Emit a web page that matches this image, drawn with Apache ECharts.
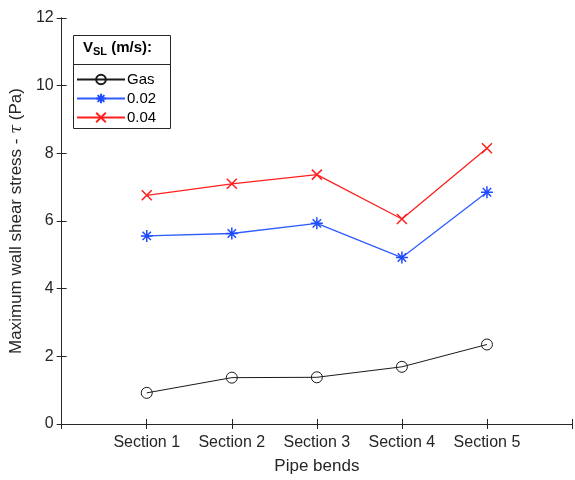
<!DOCTYPE html>
<html><head><meta charset="utf-8">
<script src="https://cdn.jsdelivr.net/npm/echarts@6/dist/echarts.min.js"></script>
<style>html,body{margin:0;padding:0;background:#fff}#c{width:575px;height:480px}</style>
</head><body><div id="c"></div>
<script>
const categories = ['Section 1','Section 2','Section 3','Section 4','Section 5'];
const gas = [0.92, 1.37, 1.38, 1.69, 2.35];
const v002 = [5.56, 5.63, 5.93, 4.92, 6.85];
const v004 = [6.76, 7.10, 7.37, 6.06, 8.15];
const yTicks = [0, 2, 4, 6, 8, 10, 12];

const FONT = 'Liberation Sans, Arial, sans-serif';
const AX = '#262626';
const pts = arr => arr.map((v, i) => [i + 1, v]);
const star = 'path://M0,-10L0,10M-10,0L10,0M-7,-7L7,7M-7,7L7,-7';
const cross = 'path://M-10,-10L10,10M-10,10L10,-10';

const chart = echarts.init(document.getElementById('c'), null, {renderer: 'canvas'});
const tickStyle = {inside: true, length: 5, lineStyle: {color: AX}};
chart.setOption({
  animation: false,
  backgroundColor: '#fff',
  grid: {left: 57, top: 18, right: -1, bottom: 49},
  xAxis: [{
    type: 'value', min: 0, max: categories.length + 1, interval: 1,
    name: 'Pipe bends', nameLocation: 'middle', nameGap: 34,
    nameTextStyle: {fontFamily: FONT, fontSize: 17, color: AX},
    axisLine: {lineStyle: {color: AX}},
    axisTick: tickStyle,
    splitLine: {show: false},
    axisLabel: {fontFamily: FONT, fontSize: 16, color: AX, margin: 11,
      formatter: v => categories[v - 1] || ''}
  }, {
    type: 'value', position: 'top', min: 0, max: categories.length + 1, interval: 1,
    axisLine: {show: true, lineStyle: {color: AX}},
    axisTick: tickStyle, axisLabel: {show: false}, splitLine: {show: false}
  }],
  yAxis: [{
    type: 'value', min: yTicks[0], max: yTicks[yTicks.length - 1], interval: 2,
    name: '{n|Maximum wall shear stress - }{t|τ}{n| (Pa)}', nameLocation: 'middle', nameGap: 36,
    nameTextStyle: {rich: {
      n: {fontFamily: FONT, fontSize: 17, color: AX},
      t: {fontFamily: 'DejaVu Serif, serif', fontStyle: 'italic', fontSize: 16, color: AX}
    }},
    axisLine: {lineStyle: {color: AX}},
    axisTick: tickStyle,
    splitLine: {show: false},
    axisLabel: {fontFamily: FONT, fontSize: 16, color: AX, margin: 8}
  }, {
    type: 'value', position: 'right', min: yTicks[0], max: yTicks[yTicks.length - 1], interval: 2,
    axisLine: {show: true, lineStyle: {color: AX}},
    axisTick: tickStyle, axisLabel: {show: false}, splitLine: {show: false}
  }],
  legend: {
    left: 71, top: 67, orient: 'vertical', itemWidth: 48, itemHeight: 12, itemGap: 4, z: 20,
    padding: 5,
    textStyle: {fontFamily: FONT, fontSize: 15, color: '#000', padding: [0, 0, 0, -3]},
    data: ['Gas', '0.02', '0.04']
  },
  graphic: [
    {type: 'rect', left: 73, top: 35, z: 1, shape: {width: 97, height: 93},
      style: {fill: '#fff', stroke: AX, lineWidth: 1}},
    {type: 'line', z: 2, shape: {x1: 73, y1: 64.5, x2: 170, y2: 64.5}, style: {stroke: AX, lineWidth: 1}},
    {type: 'text', left: 83, top: 40, z: 3, style: {
      text: '{v|V}{s|SL}{v| (m/s):}',
      rich: {v: {fontFamily: FONT, fontSize: 15, fontWeight: 'bold', fill: '#000'},
             s: {fontFamily: FONT, fontSize: 11, fontWeight: 'bold', fill: '#000', padding: [8, 0, 0, 0]}}
    }}
  ],
  series: [
    {name: 'Gas', type: 'line', data: pts(gas), symbol: 'circle', symbolSize: 11, z: 3,
      lineStyle: {color: '#1a1a1a', width: 1}, itemStyle: {color: 'rgba(255,255,255,0)', borderColor: '#1a1a1a', borderWidth: 1}},
    {name: '0.02', type: 'line', data: pts(v002), symbol: star, symbolSize: 12, z: 3,
      lineStyle: {color: '#2f5cff', width: 1.3}, itemStyle: {color: '#2f5cff', borderColor: '#1f4cff', borderWidth: 1.5}},
    {name: '0.04', type: 'line', data: pts(v004), symbol: cross, symbolSize: 10, z: 3,
      lineStyle: {color: '#ff1f1f', width: 1.3}, itemStyle: {color: '#ff1f1f', borderColor: '#ff1f1f', borderWidth: 1.5}}
  ]
});
</script></body></html>
